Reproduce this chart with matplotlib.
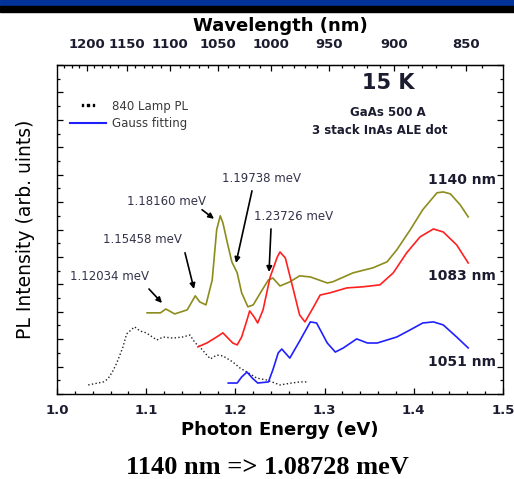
import numpy as np
import matplotlib.pyplot as plt
from matplotlib.lines import Line2D
from matplotlib.patches import Rectangle
from matplotlib.ticker import MultipleLocator, FixedLocator, NullFormatter

# 1140 nm excitation (olive)
e_1140 = [1.101, 1.116, 1.122, 1.132, 1.146, 1.155, 1.160, 1.167, 1.174, 1.179,
          1.183, 1.186, 1.191, 1.196, 1.202, 1.207, 1.214, 1.220, 1.228, 1.237,
          1.242, 1.250, 1.261, 1.272, 1.284, 1.303, 1.309, 1.332, 1.354, 1.370,
          1.381, 1.396, 1.410, 1.426, 1.433, 1.441, 1.452, 1.461]
i_1140 = [2.96, 2.96, 3.10, 2.92, 3.07, 3.58, 3.36, 3.25, 4.16, 5.99,
          6.50, 6.24, 5.51, 4.82, 4.42, 3.69, 3.18, 3.25, 3.69, 4.16,
          4.23, 3.94, 4.09, 4.31, 4.27, 4.05, 4.09, 4.42, 4.60, 4.82,
          5.26, 5.99, 6.72, 7.34, 7.37, 7.30, 6.90, 6.46]

# 1083 nm excitation (red)
e_1083 = [1.158, 1.168, 1.179, 1.186, 1.197, 1.202, 1.207, 1.213, 1.216, 1.221,
          1.225, 1.231, 1.239, 1.247, 1.250, 1.256, 1.265, 1.272, 1.278, 1.287,
          1.295, 1.306, 1.325, 1.343, 1.362, 1.377, 1.392, 1.407, 1.422, 1.433,
          1.448, 1.461]
i_1083 = [1.72, 1.86, 2.08, 2.23, 1.86, 1.79, 2.08, 2.70, 3.03, 2.81,
          2.59, 3.07, 4.27, 5.00, 5.18, 4.96, 3.80, 2.88, 2.63, 3.14,
          3.61, 3.69, 3.87, 3.91, 3.98, 4.42, 5.15, 5.73, 6.02, 5.91,
          5.44, 4.78]

# 1051 nm excitation (blue)
e_1051 = [1.192, 1.202, 1.207, 1.213, 1.219, 1.225, 1.237, 1.242, 1.248, 1.252,
          1.261, 1.272, 1.284, 1.291, 1.303, 1.312, 1.321, 1.336, 1.348, 1.359,
          1.370, 1.381, 1.396, 1.410, 1.422, 1.433, 1.448, 1.461]
i_1051 = [0.40, 0.40, 0.62, 0.80, 0.58, 0.40, 0.44, 0.88, 1.50, 1.64,
          1.31, 1.93, 2.63, 2.59, 1.86, 1.53, 1.68, 2.01, 1.86, 1.86,
          1.97, 2.08, 2.34, 2.59, 2.63, 2.52, 2.08, 1.68]

# 840 lamp PL (dots)
e_lamp = [1.035, 1.052, 1.057, 1.062, 1.067, 1.074, 1.078, 1.087, 1.093, 1.100,
          1.112, 1.119, 1.130, 1.141, 1.149, 1.155, 1.160, 1.168, 1.172, 1.179,
          1.186, 1.197, 1.205, 1.213, 1.224, 1.235, 1.250, 1.263, 1.272, 1.280]
i_lamp = [0.33, 0.44, 0.55, 0.80, 1.13, 1.72, 2.19, 2.45, 2.30, 2.23,
          1.97, 2.08, 2.04, 2.08, 2.15, 1.86, 1.72, 1.42, 1.28, 1.42,
          1.39, 1.17, 0.95, 0.80, 0.58, 0.51, 0.33, 0.40, 0.44, 0.44]

peak_labels = ['1.12034 meV', '1.15458 meV', '1.18160 meV', '1.19738 meV', '1.23726 meV']
wl_ticks = [1200, 1150, 1100, 1050, 1000, 950, 900, 850]
curve_labels = ['1140 nm', '1083 nm', '1051 nm']

OLIVE = '#8c8c1c'
RED = '#ff2020'
BLUE = '#2020ff'
TXT = '#1c1c30'


def ev_nm(x):
    x = np.asarray(x, dtype=float)
    with np.errstate(divide='ignore'):
        return 1239.84 / np.where(x == 0, 1e-9, x)


def main():
    fig = plt.figure(figsize=(5.14, 4.79), dpi=100)
    fig.patches.append(Rectangle((0, 1 - 6 / 479), 1, 6 / 479,
                                 transform=fig.transFigure, color='#003399', zorder=0))
    fig.patches.append(Rectangle((0, 1 - 12 / 479), 1, 6 / 479,
                                 transform=fig.transFigure, color='black', zorder=0))

    ax = fig.add_axes([57 / 514, 1 - 394 / 479, 446 / 514, 329 / 479])

    ax.plot(e_lamp, i_lamp, ls=':', color='#222222', lw=1.0)
    ax.plot(e_1140, i_1140, color=OLIVE, lw=1.2)
    ax.plot(e_1083, i_1083, color=RED, lw=1.2)
    ax.plot(e_1051, i_1051, color=BLUE, lw=1.2)

    ax.set_xlim(1.0, 1.5)
    ax.set_ylim(0, 12)

    ax.xaxis.set_major_locator(MultipleLocator(0.1))
    ax.xaxis.set_minor_locator(MultipleLocator(0.02))
    ax.yaxis.set_major_locator(MultipleLocator(1))
    ax.yaxis.set_minor_locator(MultipleLocator(0.5))
    ax.yaxis.set_major_formatter(NullFormatter())
    ax.tick_params(which='both', direction='in', left=True, right=True, width=0.9)
    ax.tick_params(which='major', length=4)
    ax.tick_params(which='minor', length=2)
    ax.tick_params(axis='x', pad=7, labelsize=9.5, labelcolor=TXT)
    for t in ax.get_xticklabels():
        t.set_fontweight('bold')
    for s in ax.spines.values():
        s.set_linewidth(1.0)

    ax.set_xlabel('Photon Energy (eV)', fontsize=13, fontweight='bold', labelpad=3)
    ax.set_ylabel('PL Intensity (arb. uints)', fontsize=13.5, labelpad=12)

    top = ax.secondary_xaxis('top', functions=(ev_nm, ev_nm))
    top.xaxis.set_major_locator(FixedLocator(wl_ticks))
    top.xaxis.set_minor_locator(FixedLocator(np.arange(840, 1241, 10)))
    top.tick_params(which='both', direction='in', width=0.9, pad=10,
                    labelsize=9.5, labelcolor=TXT)
    top.tick_params(which='major', length=4)
    top.tick_params(which='minor', length=2)
    for t in top.get_xticklabels():
        t.set_fontweight('bold')
    top.set_xlabel('Wavelength (nm)', fontsize=13, fontweight='bold', labelpad=5)

    # peak annotations
    text_pos = [(1.0146, 4.27), (1.0516, 5.62), (1.0785, 7.01), (1.1850, 7.85), (1.2209, 6.46)]
    arrows = [((1.1031, 3.83), (1.1177, 3.32)),
              ((1.1435, 5.15), (1.1536, 3.83)),
              ((1.1626, 6.72), (1.1760, 6.39)),
              ((1.2186, 7.41), (1.2007, 4.78)),
              ((1.2399, 6.02), (1.2377, 4.45))]
    for lab, (tx, ty), (a0, a1) in zip(peak_labels, text_pos, arrows):
        ax.text(tx, ty, lab, fontsize=8.5, color='#33334a', ha='left', va='center')
        ax.annotate('', xy=a1, xytext=a0,
                    arrowprops=dict(arrowstyle='-|>', color='k', lw=1.2,
                                    mutation_scale=8, shrinkA=0, shrinkB=0))

    # curve labels
    for lab, yy in zip(curve_labels, [7.81, 4.31, 1.17]):
        ax.text(1.4922, yy, lab, fontsize=10, fontweight='bold', color=TXT,
                ha='right', va='center')

    ax.text(1.371, 11.34, '15 K', fontsize=15, fontweight='bold', color=TXT,
            ha='center', va='center')
    ax.text(1.371, 10.28, 'GaAs 500 A', fontsize=8.5, fontweight='bold', color=TXT,
            ha='center', va='center')
    ax.text(1.362, 9.6, '3 stack InAs ALE dot', fontsize=8.5, fontweight='bold', color=TXT,
            ha='center', va='center')

    handles = [Line2D([], [], ls='none', marker='$\\cdots$', color='k', ms=9),
               Line2D([], [], color=BLUE, lw=1.5)]
    ax.legend(handles, ['840 Lamp PL', 'Gauss fitting'], loc='upper left',
              bbox_to_anchor=(0.03, 0.895), frameon=False, fontsize=8.5,
              handlelength=3.0, handletextpad=0.5, labelspacing=0.35,
              borderpad=0, borderaxespad=0, labelcolor='#3a3a3a', numpoints=1)

    fig.text(267 / 514, 1 - 467 / 479, '1140 nm => 1.08728 meV',
             family='Liberation Serif', fontweight='bold', fontsize=19,
             ha='center', va='center')

    fig.savefig('out.png', dpi=100)


if __name__ == '__main__':
    main()
